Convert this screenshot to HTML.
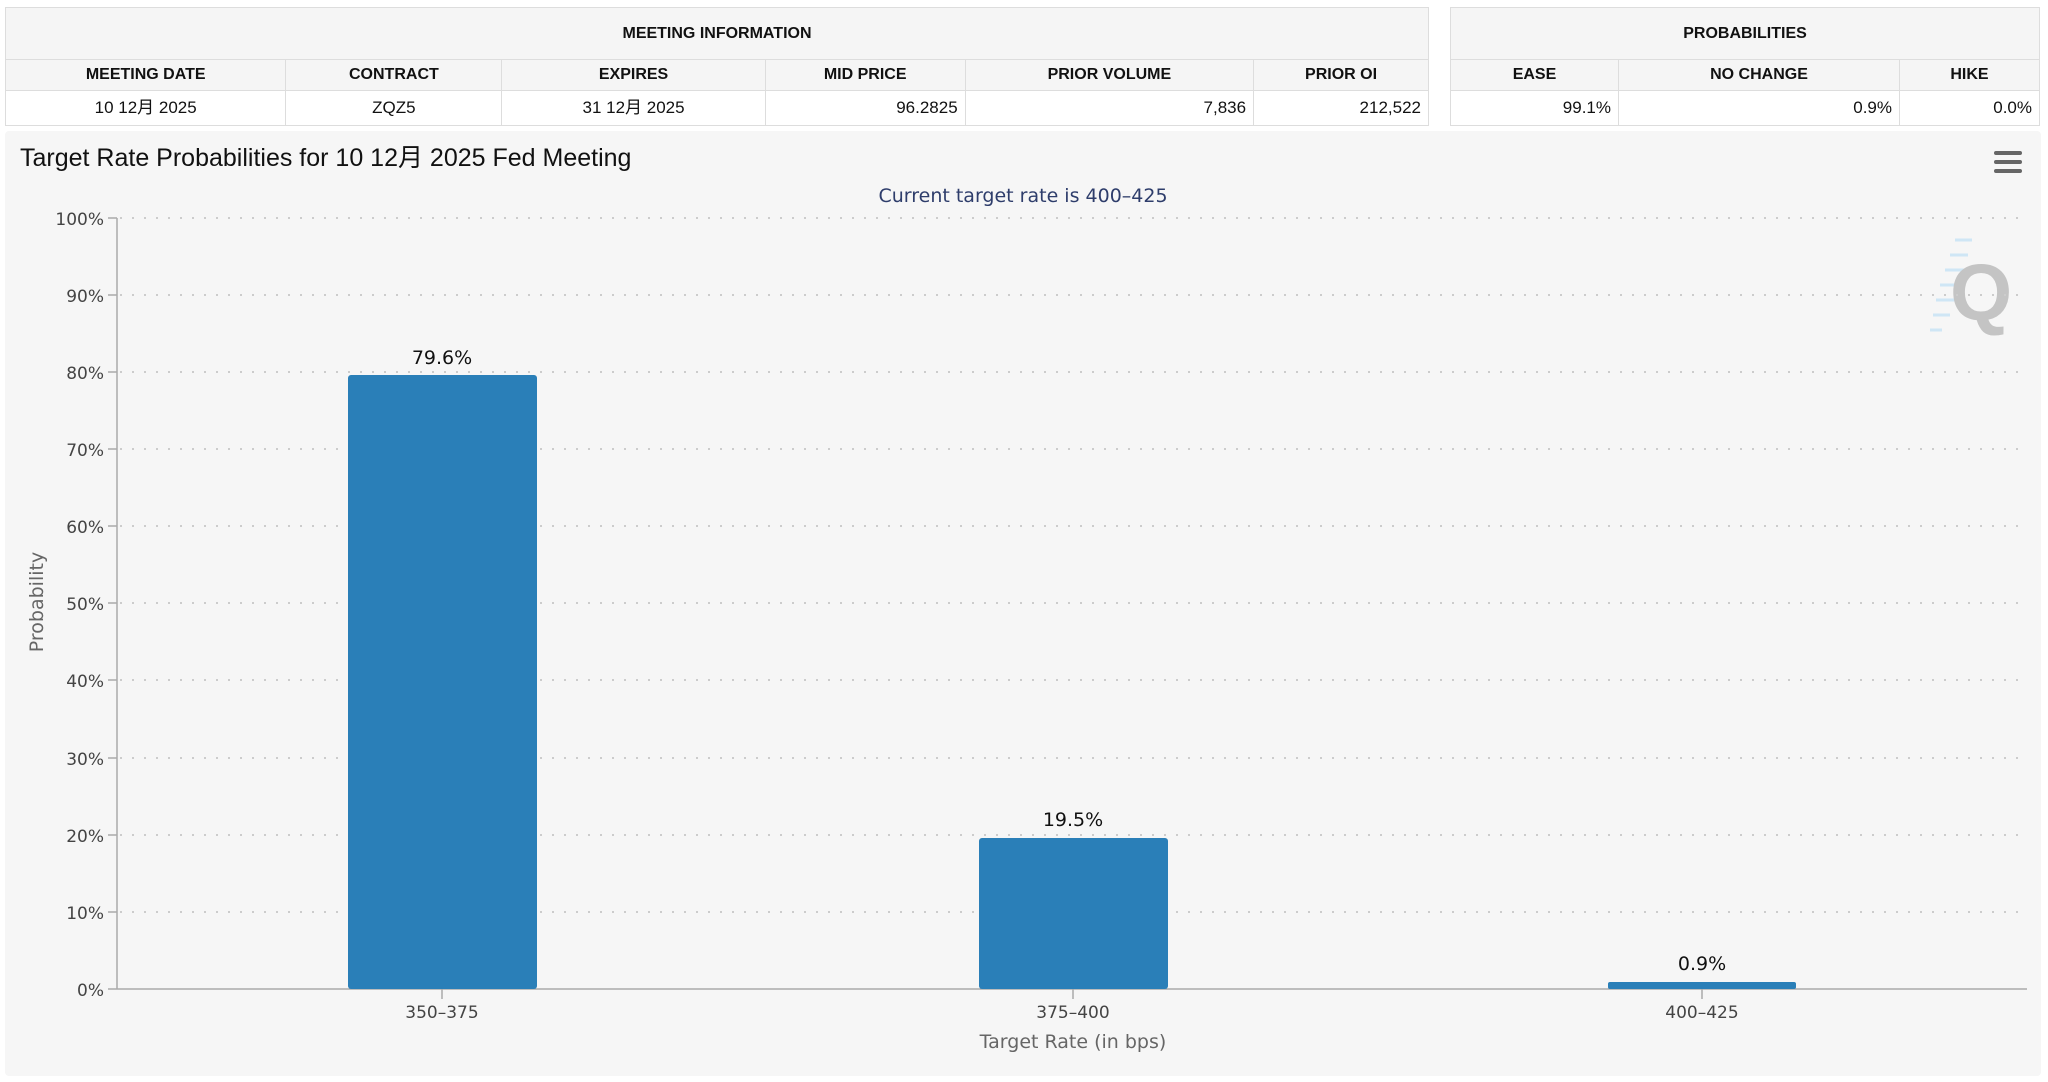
<!DOCTYPE html>
<html><head><meta charset="utf-8"><style>
body{margin:0;width:2048px;height:1082px;background:#fff;position:relative;overflow:hidden;font-family:"Liberation Sans","Noto Sans CJK SC",sans-serif;}
table{position:absolute;border-collapse:collapse;table-layout:fixed;font-size:17px;color:#111;}
td,th{border:1px solid #ddd;padding:0 7px;}
th{background:#f5f5f5;font-weight:bold;font-size:16px;text-align:center;}
.h1 th{height:51px;}
.h2 th{height:30px;}
.d td{height:34px;background:#fff;line-height:20px;}
.c{text-align:center}.r{text-align:right}
svg{position:absolute;left:0;top:0}
</style></head><body>
<table style="left:5px;top:7px;width:1424px">
<colgroup><col style="width:279px"><col style="width:215px"><col style="width:262px"><col style="width:199px"><col style="width:287px"><col style="width:174px"></colgroup>
<tr class="h1"><th colspan="6">MEETING INFORMATION</th></tr>
<tr class="h2"><th>MEETING DATE</th><th>CONTRACT</th><th>EXPIRES</th><th>MID PRICE</th><th>PRIOR VOLUME</th><th>PRIOR OI</th></tr>
<tr class="d"><td class="c">10 12月 2025</td><td class="c">ZQZ5</td><td class="c">31 12月 2025</td><td class="r">96.2825</td><td class="r">7,836</td><td class="r">212,522</td></tr>
</table>
<table style="left:1450px;top:7px;width:589px">
<colgroup><col style="width:168px"><col style="width:281px"><col style="width:140px"></colgroup>
<tr class="h1"><th colspan="3">PROBABILITIES</th></tr>
<tr class="h2"><th>EASE</th><th>NO CHANGE</th><th>HIKE</th></tr>
<tr class="d"><td class="r">99.1%</td><td class="r">0.9%</td><td class="r">0.0%</td></tr>
</table>
<svg width="2048" height="1082" xmlns="http://www.w3.org/2000/svg">
<rect x="5" y="131" width="2036" height="945" rx="4" fill="#f6f6f6"/>
<text x="20" y="166" font-family="Liberation Sans,Noto Sans CJK SC,sans-serif" font-size="25" fill="#111">Target Rate Probabilities for 10 12月 2025 Fed Meeting</text>
<text x="1023" y="202" text-anchor="middle" font-family="DejaVu Sans,sans-serif" font-size="19" fill="#2e3d6b">Current target rate is 400–425</text>
<g fill="#666"><rect x="1994" y="151" width="28" height="4" rx="2"/><rect x="1994" y="160" width="28" height="4" rx="2"/><rect x="1994" y="169" width="28" height="4" rx="2"/></g>
<g stroke="#cfe6f5" stroke-width="3">
<line x1="1955" y1="240" x2="1972" y2="240"/><line x1="1950" y1="255" x2="1968" y2="255"/><line x1="1945" y1="270" x2="1965" y2="270"/><line x1="1940" y1="285" x2="1962" y2="285"/><line x1="1936" y1="300" x2="1958" y2="300"/><line x1="1933" y1="315" x2="1950" y2="315"/><line x1="1930" y1="330" x2="1942" y2="330"/>
</g>
<text x="1950" y="320" font-family="Liberation Sans,sans-serif" font-weight="bold" font-size="80" fill="#c4c4c4">Q</text>
<g stroke="#ccc" stroke-width="2" stroke-dasharray="2,10">
<line x1="120" y1="218" x2="2027" y2="218"/><line x1="120" y1="295" x2="2027" y2="295"/><line x1="120" y1="372" x2="2027" y2="372"/><line x1="120" y1="449" x2="2027" y2="449"/><line x1="120" y1="526" x2="2027" y2="526"/><line x1="120" y1="603" x2="2027" y2="603"/><line x1="120" y1="680" x2="2027" y2="680"/><line x1="120" y1="758" x2="2027" y2="758"/><line x1="120" y1="835" x2="2027" y2="835"/><line x1="120" y1="912" x2="2027" y2="912"/>
</g>
<g stroke="#aaa" stroke-width="1.5">
<line x1="117" y1="218" x2="117" y2="989"/>
<line x1="117" y1="989" x2="2027" y2="989"/>
<line x1="108" y1="218" x2="117" y2="218"/><line x1="108" y1="295" x2="117" y2="295"/><line x1="108" y1="372" x2="117" y2="372"/><line x1="108" y1="449" x2="117" y2="449"/><line x1="108" y1="526" x2="117" y2="526"/><line x1="108" y1="603" x2="117" y2="603"/><line x1="108" y1="680" x2="117" y2="680"/><line x1="108" y1="758" x2="117" y2="758"/><line x1="108" y1="835" x2="117" y2="835"/><line x1="108" y1="912" x2="117" y2="912"/><line x1="108" y1="989" x2="117" y2="989"/>
<line x1="442" y1="989" x2="442" y2="999"/><line x1="1073" y1="989" x2="1073" y2="999"/><line x1="1702" y1="989" x2="1702" y2="999"/>
</g>
<g font-family="DejaVu Sans,sans-serif" font-size="17" fill="#444" text-anchor="end">
<text x="104" y="225">100%</text><text x="104" y="302">90%</text><text x="104" y="379">80%</text><text x="104" y="456">70%</text><text x="104" y="533">60%</text><text x="104" y="610">50%</text><text x="104" y="687">40%</text><text x="104" y="765">30%</text><text x="104" y="842">20%</text><text x="104" y="919">10%</text><text x="104" y="996">0%</text>
</g>
<text transform="translate(43,602) rotate(-90)" text-anchor="middle" font-family="DejaVu Sans,sans-serif" font-size="19" fill="#666">Probability</text>
<g fill="#2a7fb8">
<rect x="348" y="375" width="189" height="614" rx="3"/>
<rect x="979" y="838" width="189" height="151" rx="3"/>
<rect x="1608" y="982" width="188" height="7" rx="2"/>
</g>
<g font-family="DejaVu Sans,sans-serif" font-size="19" fill="#111" text-anchor="middle">
<text x="442" y="364">79.6%</text><text x="1073" y="826">19.5%</text><text x="1702" y="970">0.9%</text>
</g>
<g font-family="DejaVu Sans,sans-serif" font-size="17" fill="#444" text-anchor="middle">
<text x="442" y="1018">350–375</text><text x="1073" y="1018">375–400</text><text x="1702" y="1018">400–425</text>
</g>
<text x="1073" y="1048" text-anchor="middle" font-family="DejaVu Sans,sans-serif" font-size="19" fill="#666">Target Rate (in bps)</text>
</svg>
</body></html>
